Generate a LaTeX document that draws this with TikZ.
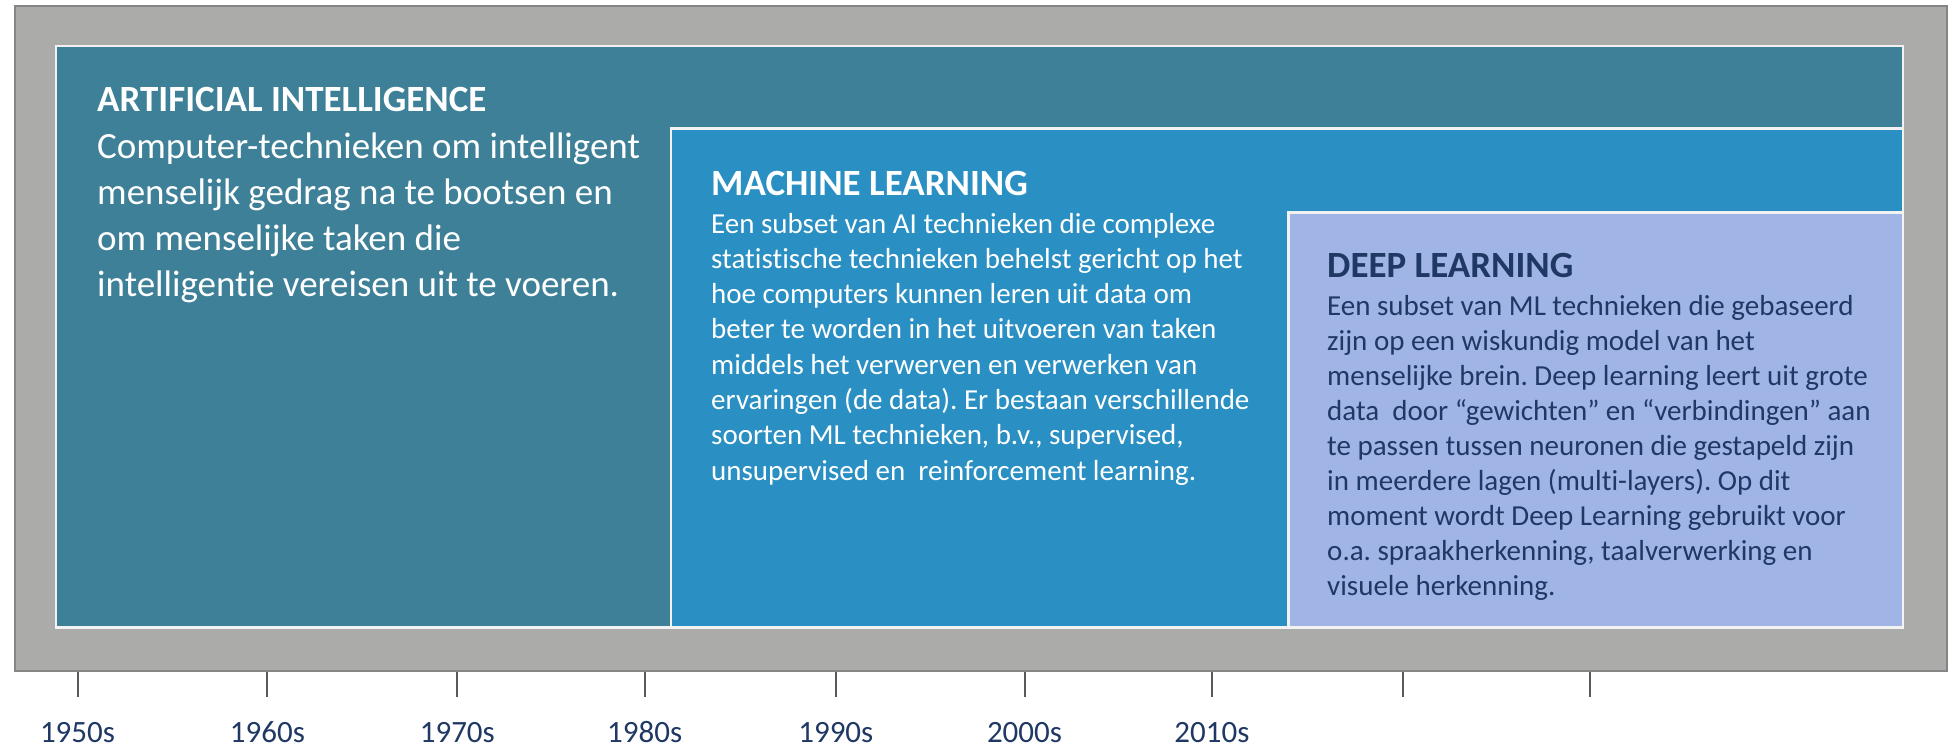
\documentclass[tikz,border=0pt]{standalone}
\usepackage{fontspec}
\usetikzlibrary{calc}
\setmainfont{Carlito}[Ligatures={NoCommon}]
\frenchspacing
\definecolor{framefill}{HTML}{ABABAA}
\definecolor{frameedge}{HTML}{858585}
\definecolor{aifill}{HTML}{3E8097}
\definecolor{mlfill}{HTML}{2A8FC2}
\definecolor{dlfill}{HTML}{A0B5E6}
\definecolor{boxedge}{HTML}{F2F2F2}
\definecolor{navy}{HTML}{1F3864}
\definecolor{tickgray}{HTML}{595959}
\tikzset{
  panel/.style={draw=boxedge, line width=2.5pt},
  txt/.style={anchor=base west, inner sep=0pt},
  aititle/.style={txt, text=white, font=\fontsize{37}{44}\selectfont\bfseries},
  aibody/.style={txt, text=white, font=\fontsize{37}{44}\selectfont},
  mltitle/.style={txt, text=white, font=\fontsize{37}{44}\selectfont\bfseries},
  mlbody/.style={txt, text=white, font=\fontsize{29}{35}\selectfont},
  dltitle/.style={txt, text=navy, font=\fontsize{37}{44}\selectfont\bfseries},
  dlbody/.style={txt, text=navy, font=\fontsize{29}{35}\selectfont},
  year/.style={anchor=base, inner sep=0pt, text=navy, font=\fontsize{31}{37}\selectfont},
  tickline/.style={draw=tickgray, line width=2pt},
}
\begin{document}
\begin{tikzpicture}[x=1pt,y=-1pt]
\useasboundingbox (0,0) rectangle (1959,750);
% outer grey frame
\draw[fill=framefill, draw=frameedge, line width=2pt] (15,6) rectangle (1947,671);
% nested panels
\draw[panel, fill=aifill] (56,46) rectangle (1903,627.5);
\draw[panel, fill=mlfill] (671,128.5) rectangle (1903,627.5);
\draw[panel, fill=dlfill] (1288.5,212.5) rectangle (1903,627.5);

% Artificial intelligence
\node[aititle] (aititle) at (97,111.5) {ARTIFICIAL INTELLIGENCE};
\foreach \t [count=\i from 0] in {
  {Computer-technieken om intelligent},
  {menselijk gedrag na te bootsen en},
  {om menselijke taken die},
  {intelligentie vereisen uit te voeren.}}
  \node[aibody] (ai-\i) at (97,{158+46.3*\i}) {\t};

% Machine learning
\node[mltitle] (mltitle) at (711,195.5) {MACHINE LEARNING};
\foreach \t [count=\i from 0] in {
  {Een subset van AI technieken die complexe},
  {statistische technieken behelst gericht op het},
  {hoe computers kunnen leren uit data om},
  {beter te worden in het uitvoeren van taken},
  {middels het verwerven en verwerken van},
  {ervaringen (de data). Er bestaan verschillende},
  {soorten ML technieken, b.v., supervised,},
  {unsupervised en\ \ reinforcement learning.}}
  \node[mlbody] (ml-\i) at (711,{233+35.3*\i}) {\t};

% Deep learning
\node[dltitle] (dltitle) at (1327,277) {DEEP LEARNING};
\foreach \t [count=\i from 0] in {
  {Een subset van ML technieken die gebaseerd},
  {zijn op een wiskundig model van het},
  {menselijke brein. Deep learning leert uit grote},
  {data\ \ door “gewichten” en “verbindingen” aan},
  {te passen tussen neuronen die gestapeld zijn},
  {in meerdere lagen (multi-layers). Op dit},
  {moment wordt Deep Learning gebruikt voor},
  {o.a. spraakherkenning, taalverwerking en},
  {visuele herkenning.}}
  \node[dlbody] (dl-\i) at (1327,{315+35*\i}) {\t};

% time axis
\foreach \x [count=\i] in {77.5,267.4,457.3,644.7,835.8,1024.5,1211.9,1403,1590.4} {
  \coordinate (tick-\i) at (\x,672);
  \draw[tickline] (tick-\i) -- ++(0,25);
}
\foreach \lab [count=\i] in {1950s,1960s,1970s,1980s,1990s,2000s,2010s}
  \node[year] (year-\i) at ($(tick-\i)+(0,70)$) {\lab};
\end{tikzpicture}
\end{document}
